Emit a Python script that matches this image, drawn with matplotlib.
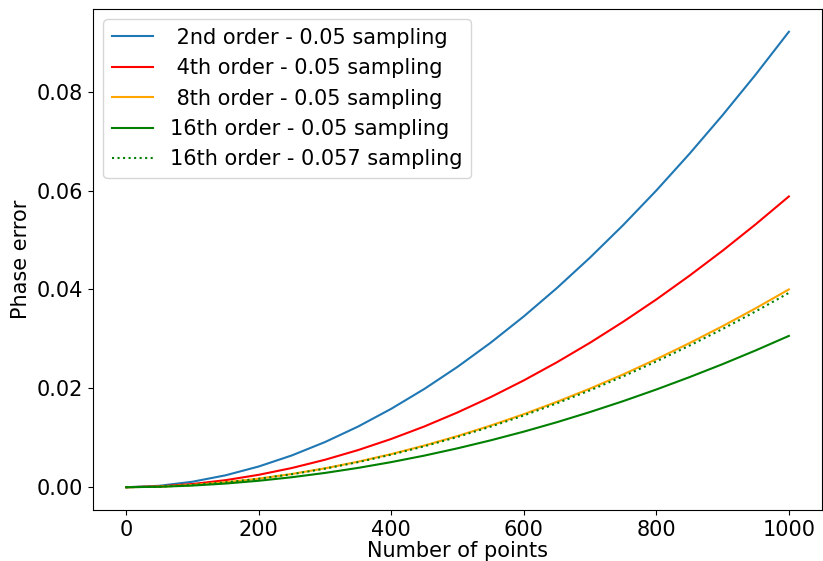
import numpy as np
import matplotlib
matplotlib.use("Agg")
import matplotlib.pyplot as plt

# values, every 50 points
n_points = [0, 50, 100, 150, 200, 250, 300, 350, 400, 450, 500,
            550, 600, 650, 700, 750, 800, 850, 900, 950, 1000]
err_2nd = [0.0, 0.00029, 0.00111, 0.00241, 0.00419, 0.00643, 0.00913, 0.01227, 0.01586, 0.01988, 0.02434,
           0.02922, 0.03454, 0.04028, 0.04644, 0.05301, 0.06000, 0.06742, 0.07524, 0.08346, 0.0921]
err_4th = [0.0, 0.000166, 0.000645, 0.001427, 0.002509, 0.003884, 0.005554, 0.007513, 0.00976, 0.01229, 0.01512,
           0.01822, 0.02160, 0.02527, 0.02922, 0.03346, 0.03797, 0.04277, 0.04783, 0.05318, 0.0588]
err_8th = [0.0, 0.000116, 0.000449, 0.00099, 0.001734, 0.002679, 0.003823, 0.005165, 0.0067, 0.008431, 0.01035,
           0.01247, 0.01477, 0.01727, 0.01995, 0.02282, 0.02589, 0.02914, 0.03257, 0.03619, 0.0400]
err_16th = [0.0, 0.0000864, 0.000336, 0.000743, 0.001306, 0.002021, 0.00289, 0.00391, 0.005079, 0.006396, 0.007868,
            0.009482, 0.01124, 0.01315, 0.01521, 0.01741, 0.01976, 0.02226, 0.02489, 0.02767, 0.0306]
err_16th_057 = [0.0, 0.000114, 0.000441, 0.000973, 0.001704, 0.002632, 0.003756, 0.005075, 0.006583, 0.008283, 0.01017,
                0.01225, 0.01451, 0.01697, 0.0196, 0.02242, 0.02544, 0.02863, 0.032, 0.03556, 0.0393]

labels = [
    " 2nd order - 0.05 sampling",
    " 4th order - 0.05 sampling",
    " 8th order - 0.05 sampling",
    "16th order - 0.05 sampling",
    "16th order - 0.057 sampling",
]

fs = 15
fig = plt.figure(figsize=(8.23, 5.61), dpi=100)
ax = fig.add_axes([93 / 823, 51 / 561, 729 / 823, 501 / 561])

ax.plot(n_points, err_2nd, color="#1f77b4", label=labels[0])
ax.plot(n_points, err_4th, color="red", label=labels[1])
ax.plot(n_points, err_8th, color="orange", label=labels[2])
ax.plot(n_points, err_16th, color="green", label=labels[3])
ax.plot(n_points, err_16th_057, color="green", linestyle=":", label=labels[4])

ax.set_xlabel("Number of points", fontsize=fs, labelpad=1)
ax.set_ylabel("Phase error", fontsize=fs)
ax.tick_params(labelsize=fs)
ax.set_yticks([0.0, 0.02, 0.04, 0.06, 0.08])
ax.legend(loc="upper left", fontsize=fs)

fig.savefig("out.png", dpi=100)
